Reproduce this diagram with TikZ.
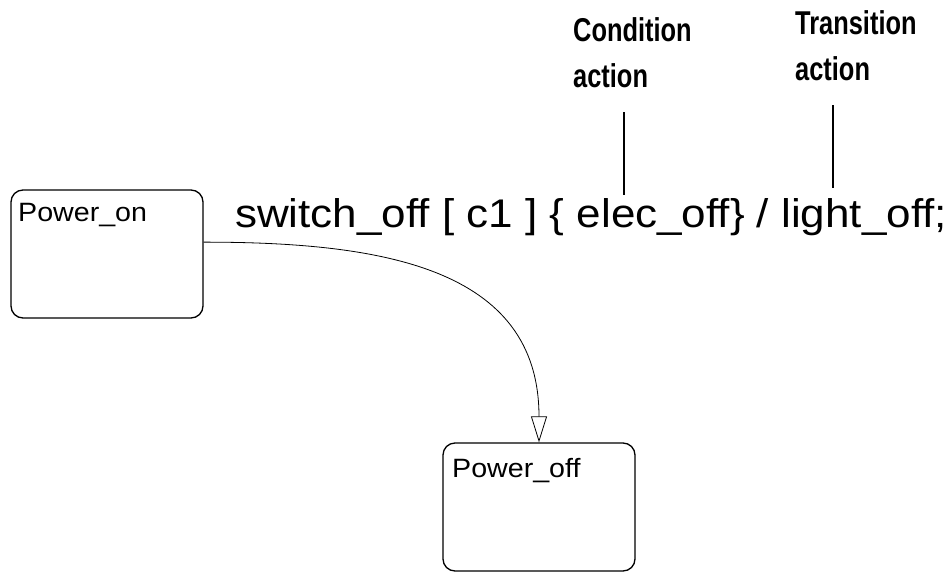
\documentclass[tikz,border=0pt]{standalone}
\usepackage{fontspec}
\usepackage{tikz}
\usetikzlibrary{arrows.meta}
\setmainfont{Liberation Sans}
\newfontfamily\chartfont[FakeStretch=1.08]{Liberation Sans}
\newfontfamily\wordfont[FakeStretch=1.1]{Liberation Sans}
\newfontfamily\notefont[FakeStretch=0.77]{Liberation Sans Bold}

\begin{document}
\begin{tikzpicture}[
            x=1pt, y=-1pt,
            state/.style={draw, line width=1.3pt, rounded corners=12pt, minimum width=192pt, minimum height=128pt, inner sep=0pt},
            statename/.style={anchor=base west, inner sep=0pt, font=\chartfont\fontsize{26.5}{30}\selectfont},
            trans/.style={-{Triangle[open, length=26pt, width=16pt]}, line width=0.8pt},
            transtext/.style={anchor=base west, inner sep=0pt, font=\wordfont\fontsize{40}{46}\selectfont},
            note/.style={anchor=base west, inner sep=0pt, align=left, font=\notefont\fontsize{33}{46}\selectfont},
            pointer/.style={line width=1.8pt}
        ]
            \useasboundingbox (0,0) rectangle (946,573);

            % States
            \node[state] (on) at (107,254) {};
            \node[statename] (onname) at (18,221) {Power\_on};
            \node[state] (off) at (539,507) {};
            \node[statename] (offname) at (452,477) {Power\_off};

            % Transition and its label
            \draw[trans] (on.7) to[out=0, in=90, looseness=1.15] (off.north);
            \node[transtext] (label) at (235,227) {switch\_off [ c1 ] \{ elec\_off\} / light\_off;};

            % Notes
            \node[note] (cond) at (573,87) {Condition\\action};
            \node[note] (tact) at (795,80) {Transition\\action};
            \coordinate (condtop) at (624,112);
            \coordinate (condbot) at (624,195);
            \coordinate (tacttop) at (833,105);
            \coordinate (tactbot) at (833,188);
            \draw[pointer] (condtop) -- (condbot);
            \draw[pointer] (tacttop) -- (tactbot);
        \end{tikzpicture}
\end{document}
